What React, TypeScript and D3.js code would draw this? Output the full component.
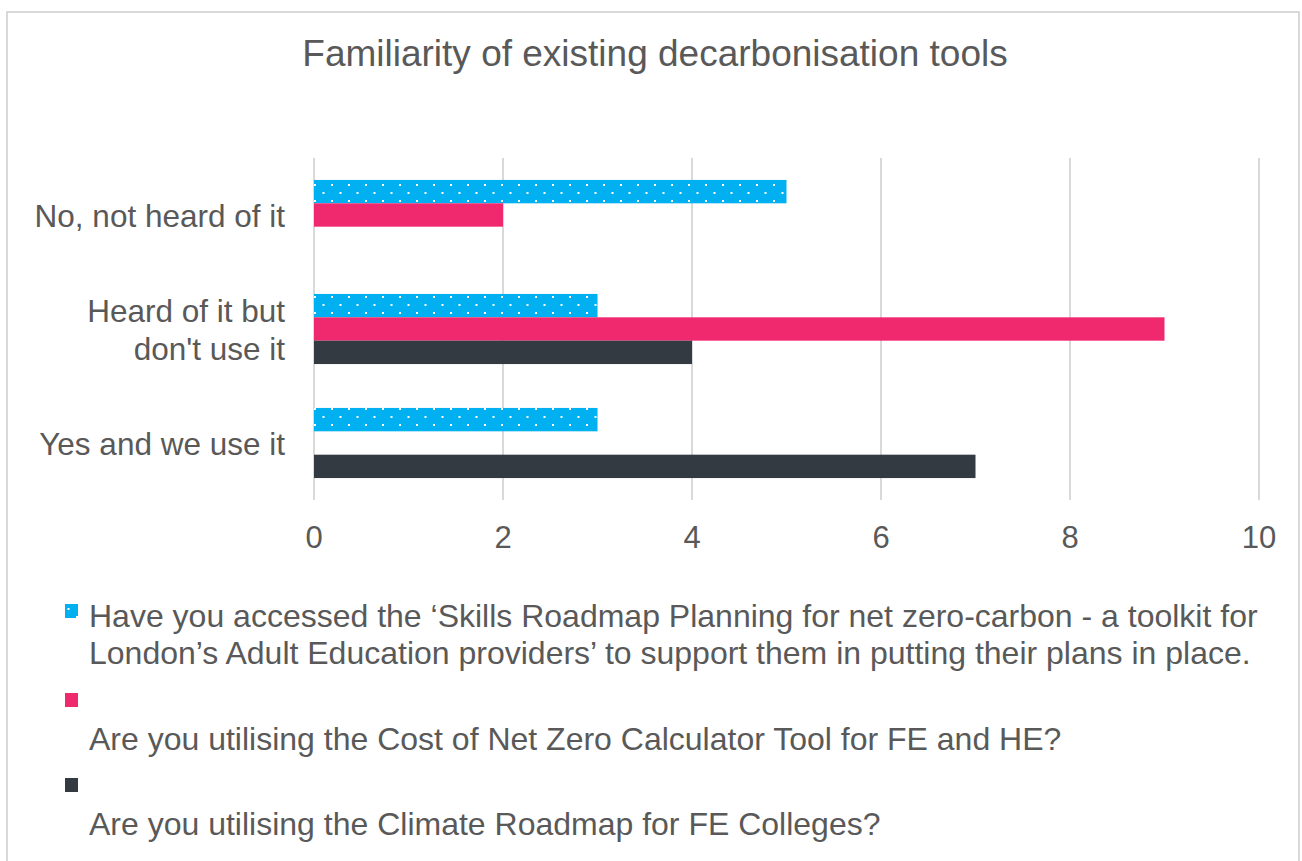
import React from "react";
import * as d3 from "d3";

const title = "Familiarity of existing decarbonisation tools";
const categories = ["No, not heard of it", "Heard of it but\ndon't use it", "Yes and we use it"];
const seriesNames = [
  "Have you accessed the \u2018Skills Roadmap Planning for net zero-carbon - a toolkit for\nLondon\u2019s Adult Education providers\u2019 to support them in putting their plans in place.",
  "Are you utilising the Cost of Net Zero Calculator Tool for FE and HE?",
  "Are you utilising the Climate Roadmap for FE Colleges?",
];
const skillsToolkit = [5, 3, 3];
const costCalculator = [2, 9, 0];
const climateRoadmap = [0, 4, 7];
const xTicks = [0, 2, 4, 6, 8, 10];

const series = [skillsToolkit, costCalculator, climateRoadmap];
const colors = ["#00b0f0", "#f0286e", "#343a42"];
const fills = ["url(#dots)", colors[1], colors[2]];

const W = 1302;
const H = 861;
const FONT = "Liberation Sans, Arial, sans-serif";
const TEXT = "#595959";

export default function App() {
  const x = d3.scaleLinear().domain([0, 10]).range([314, 1259]);
  const y = d3.scaleBand().domain(categories).range([158, 500]).paddingInner(0.385).paddingOuter(0.1925);
  const inner = d3.scaleBand().domain(["0", "1", "2"]).range([0, y.bandwidth()]);

  return (
    <svg width={W} height={H} style={{ position: "absolute", left: 0, top: 0, background: "#fff", fontFamily: FONT }}>
      <defs>
        <pattern id="dots" patternUnits="userSpaceOnUse" width={17} height={16} x={314} y={181}>
          <rect width={17} height={16} fill={colors[0]} />
          <rect x={0} y={3} width={2} height={2} fill="#fff" />
          <rect x={8.5} y={11} width={2} height={2} fill="#fff" />
        </pattern>
      </defs>
      <rect x={7} y={12} width={1292} height={860} fill="#fff" stroke="#d9d9d9" strokeWidth={2} />
      <text x={655} y={66} textAnchor="middle" fontSize={37} fill={TEXT}>{title}</text>

      {xTicks.map((t) => (
        <g key={t}>
          <line x1={x(t)} x2={x(t)} y1={158} y2={500} stroke="#d9d9d9" strokeWidth={2} />
          <text x={x(t)} y={548} textAnchor="middle" fontSize={31} fill={TEXT}>{t}</text>
        </g>
      ))}

      {categories.map((c, ci) => (
        <g key={c}>
          {series.map((s, si) => (
            s[ci] > 0 ? (
              <rect key={si} x={x(0)} y={(y(c) as number) + (inner(String(si)) as number)}
                width={x(s[ci]) - x(0)} height={inner.bandwidth()} fill={fills[si]} />
            ) : null
          ))}
          {c.split("\n").map((line, li, arr) => (
            <text key={li} x={285} textAnchor="end" fontSize={31.5} fill={TEXT}
              y={(y(c) as number) + y.bandwidth() / 2 + 12 + (li - (arr.length - 1) / 2) * 38}>{line}</text>
          ))}
        </g>
      ))}

      {/* legend */}
      {seriesNames.map((name, si) => {
        const markerY = [604, 693, 778][si];
        const textY = [627, 750, 835][si];
        return (
          <g key={si}>
            <rect x={65} y={markerY} width={13} height={14} fill={fills[si]} />
            {name.split("\n").map((line, li) => (
              <text key={li} x={89} y={textY + li * 37} fontSize={32} fill={TEXT}>{line}</text>
            ))}
          </g>
        );
      })}
    </svg>
  );
}
